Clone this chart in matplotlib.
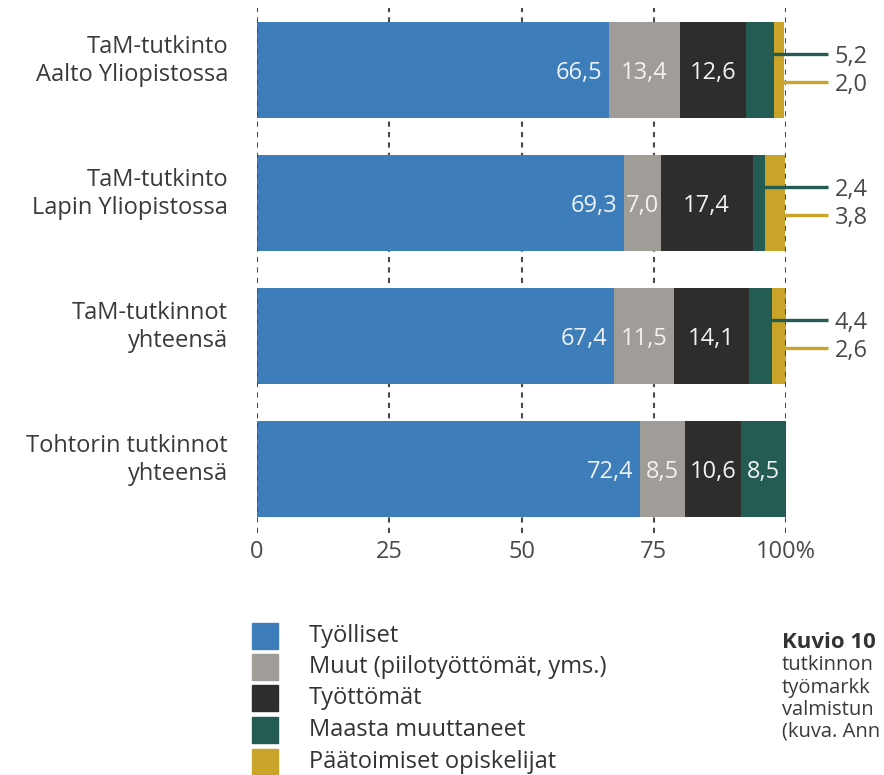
import numpy as np
import matplotlib
matplotlib.use("Agg")
import matplotlib.pyplot as plt
from matplotlib.patches import Rectangle

plt.rcParams['font.family'] = ['Open Sans', 'DejaVu Sans']

# --- data ---
rows = ["TaM-tutkinto\nAalto Yliopistossa",
        "TaM-tutkinto\nLapin Yliopistossa",
        "TaM-tutkinnot\nyhteensä",
        "Tohtorin tutkinnot\nyhteensä"]
categories = ["Työlliset", "Muut (piilotyöttömät, yms.)", "Työttömät",
              "Maasta muuttaneet", "Päätoimiset opiskelijat"]
tyolliset = [66.5, 69.3, 67.4, 72.4]
muut = [13.4, 7.0, 11.5, 8.5]
tyottomat = [12.6, 17.4, 14.1, 10.6]
muuttaneet = [5.2, 2.4, 4.4, 8.5]
opiskelijat = [2.0, 3.8, 2.6, 0.0]
xticks = [0, 25, 50, 75, 100]
xticklabels = ["0", "25", "50", "75", "100%"]
caption = ["tutkinnon", "työmarkk", "valmistun", "(kuva. Ann"]

colors = ["#3c7dba", "#a09c97", "#2f2d2c", "#245b52", "#c9a428"]
series = [tyolliset, muut, tyottomat, muuttaneet, opiskelijat]

W, H = 884, 775
fig = plt.figure(figsize=(W / 100, H / 100), dpi=100)
fig.patch.set_facecolor("white")

# axes placed in pixel terms
ax_left, ax_right, ax_top, ax_bot = 257, 786, 8, 533
ax = fig.add_axes([ax_left / W, 1 - ax_bot / H, (ax_right - ax_left) / W, (ax_bot - ax_top) / H])

y = np.arange(len(rows))
bar_h = 0.72
grid_kw = dict(color="#4a4a4a", lw=1.5, linestyle=(0, (2.5, 2.5)))

# gridlines behind the bars
for xt in xticks[1:-1]:
    ax.axvline(xt, zorder=0, **grid_kw)

left = np.zeros(len(rows))
for vals, col in zip(series, colors):
    vals = np.array(vals)
    ax.barh(y, vals, left=left, height=bar_h, color=col, zorder=2, linewidth=0)
    left += vals

# outer gridlines are drawn over the bars
for xt in (xticks[0], xticks[-1]):
    ax.axvline(xt, zorder=3, **grid_kw)

label_fs = 17
# values inside the bars
for i in range(len(rows)):
    start = 0.0
    for k, vals in enumerate(series):
        v = vals[i]
        txt = f"{v:.1f}".replace(".", ",")
        if v >= 6:
            if k == 0:
                ax.text(start + v - 1.2, y[i], txt, ha="right", va="center_baseline",
                        color="#eef2f6", fontsize=label_fs, zorder=4)
            else:
                ax.text(start + v / 2, y[i], txt, ha="center", va="center_baseline",
                        color="#f2f2f2", fontsize=label_fs, zorder=4)
        start += v

# call-out lines for the thin segments
line_end = 108.0
for i in range(len(rows)):
    end_teal = tyolliset[i] + muut[i] + tyottomat[i] + muuttaneet[i]
    if muuttaneet[i] < 6:
        yy = y[i] - 0.12
        ax.plot([end_teal - 0.6, line_end], [yy, yy], color=colors[3], lw=2.4,
                zorder=5, clip_on=False, solid_capstyle="butt")
        ax.text(line_end + 1.2, yy, f"{muuttaneet[i]:.1f}".replace(".", ","),
                ha="left", va="center_baseline", color="#4a4a4a", fontsize=label_fs,
                clip_on=False)
    if 0 < opiskelijat[i] < 6:
        yy = y[i] + 0.09
        ax.plot([end_teal + opiskelijat[i] * 0.5, line_end], [yy, yy], color=colors[4],
                lw=2.4, zorder=5, clip_on=False, solid_capstyle="butt")
        ax.text(line_end + 1.2, yy, f"{opiskelijat[i]:.1f}".replace(".", ","),
                ha="left", va="center_baseline", color="#4a4a4a", fontsize=label_fs,
                clip_on=False)

ax.set_xlim(0, 100)
ax.set_ylim(3 + (ax_bot - 469) / 133, -(70 - ax_top) / 133)
ax.set_xticks(xticks)
ax.set_xticklabels(xticklabels, fontsize=label_fs, color="#4a4a4a")
ax.set_yticks([])
ax.tick_params(axis="x", length=0, pad=5)

# row labels, right aligned left of the axes and a little above bar centre
for yi, name in zip(y, rows):
    ax.annotate(name, xy=(0, yi), xytext=(-29, 9), textcoords="offset pixels",
                ha="right", va="center", fontsize=label_fs, color="#3a3a3a",
                linespacing=1.2, annotation_clip=False)

for s in ax.spines.values():
    s.set_visible(False)
ax.set_facecolor("none")

# legend, placed by hand
leg_y = [636, 667, 698, 730, 762]
for name, col, yc in zip(categories, colors, leg_y):
    fig.add_artist(Rectangle((252 / W, 1 - (yc + 13) / H), 26 / W, 26 / H,
                             transform=fig.transFigure, color=col))
    fig.text(309 / W, 1 - yc / H, name, ha="left", va="center",
             fontsize=17, fontweight="medium", color="#333333")

# caption (the source shows only its left part)
fig.text(782 / W, 1 - 643 / H, "Kuvio 10", ha="left", va="center",
         fontsize=16, fontweight="bold", color="#333333")
for txt, yc in zip(caption, [665, 688, 710, 732]):
    fig.text(782 / W, 1 - yc / H, txt, ha="left", va="center",
             fontsize=14.5, color="#3a3a3a")

fig.savefig("out.png", dpi=100)
